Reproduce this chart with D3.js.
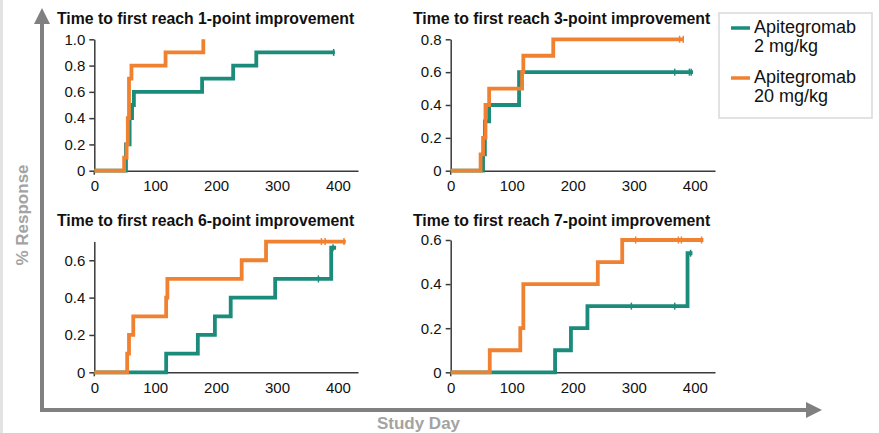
<!DOCTYPE html>
<html>
<head>
<meta charset="utf-8">
<script src="https://cdn.jsdelivr.net/npm/d3@7"></script>
<style>
  html, body { margin: 0; padding: 0; background: #fff; }
  svg { display: block; font-family: "Liberation Sans", Arial, sans-serif; }
</style>
</head>
<body>
<svg id="chart" width="879" height="433"></svg>
<script>
'use strict';

// --- data ---
const titles = [
  'Time to first reach 1-point improvement',
  'Time to first reach 3-point improvement',
  'Time to first reach 6-point improvement',
  'Time to first reach 7-point improvement'
];
const seriesNames = [['Apitegromab', '2 mg/kg'], ['Apitegromab', '20 mg/kg']];
const xTicks = [0, 100, 200, 300, 400];
const yTicks1 = [0, 0.2, 0.4, 0.6, 0.8, 1.0];
const yTicks3 = [0, 0.2, 0.4, 0.6, 0.8];
const yTicks6 = [0, 0.2, 0.4, 0.6];
const yTicks7 = [0, 0.2, 0.4, 0.6];

// [day, cumulative response]
const low1 = [[0, 0], [52, 0.2], [58, 0.4], [62, 0.5], [65, 0.6], [177, 0.7], [228, 0.8], [266, 0.9], [395, 0.9]];
const high1 = [[0, 0], [49, 0.1], [53, 0.2], [55, 0.4], [57, 0.7], [61, 0.8], [117, 0.9], [179, 1.0]];
const low3 = [[0, 0], [53, 0.1], [56, 0.3], [63, 0.4], [112, 0.6], [397, 0.6]];
const high3 = [[0, 0], [49, 0.1], [53, 0.2], [57, 0.4], [63, 0.5], [117, 0.6], [119, 0.7], [168, 0.8], [382, 0.8]];
const low6 = [[0, 0], [118, 0.1], [170, 0.2], [198, 0.3], [224, 0.4], [297, 0.5], [389, 0.667], [397, 0.667]];
const high6 = [[0, 0], [54, 0.1], [57, 0.2], [64, 0.3], [118, 0.4], [120, 0.5], [242, 0.6], [282, 0.7], [413, 0.7]];
const low7 = [[0, 0], [171, 0.1], [197, 0.2], [224, 0.3], [388, 0.54], [396, 0.54]];
const high7 = [[0, 0], [64, 0.1], [114, 0.2], [119, 0.4], [241, 0.5], [281, 0.6], [414, 0.6]];

// censored observations [day, value]
const cens1Low = [[393, 0.9]];
const cens1High = [];
const cens3Low = [[367, 0.6], [391, 0.6], [394, 0.6]];
const cens3High = [[375, 0.8], [381, 0.8]];
const cens6Low = [[368, 0.5], [392, 0.667]];
const cens6High = [[373, 0.7], [379, 0.7], [410, 0.7]];
const cens7Low = [[296, 0.3], [367, 0.3], [393, 0.54]];
const cens7High = [[303, 0.6], [373, 0.6], [378, 0.6], [411, 0.6]];

const colors = ['#1b8c7b', '#f08131'];

// --- layout ---
const panels = [
  { title: titles[0], left: 94.3, right: 358, top: 39.3, bottom: 170.7, yMax: 1.0, yTicks: yTicks1, low: low1, high: high1, cLow: cens1Low, cHigh: cens1High, tx: 57, ty: 24 },
  { title: titles[1], left: 450.7, right: 715, top: 39.3, bottom: 170.7, yMax: 0.8, yTicks: yTicks3, low: low3, high: high3, cLow: cens3Low, cHigh: cens3High, tx: 413, ty: 24 },
  { title: titles[2], left: 94.3, right: 358, top: 241.6, bottom: 372.3, yMax: 0.7, yTicks: yTicks6, low: low6, high: high6, cLow: cens6Low, cHigh: cens6High, tx: 57, ty: 225.5 },
  { title: titles[3], left: 450.7, right: 715, top: 240, bottom: 372.3, yMax: 0.6, yTicks: yTicks7, low: low7, high: high7, cLow: cens7Low, cHigh: cens7High, tx: 413, ty: 225.5 }
];

const svg = d3.select('#chart');
const frameColor = '#808080';
const labelColor = '#a3a3a3';

// faint strip at the left edge
svg.append('rect').attr('x', 0).attr('y', 0).attr('width', 3).attr('height', 433).attr('fill', '#e3e3e3');

// big frame arrows
svg.append('line').attr('x1', 42).attr('y1', 22).attr('x2', 42).attr('y2', 412)
  .attr('stroke', frameColor).attr('stroke-width', 4);
svg.append('line').attr('x1', 40).attr('y1', 410).attr('x2', 808).attr('y2', 410)
  .attr('stroke', frameColor).attr('stroke-width', 4);
svg.append('path').attr('d', 'M42,8 L34,24 L50,24 Z').attr('fill', frameColor);
svg.append('path').attr('d', 'M822,410 L806,402 L806,418 Z').attr('fill', frameColor);

svg.append('text')
  .attr('transform', 'translate(28,215) rotate(-90)')
  .attr('text-anchor', 'middle')
  .attr('font-size', 17).attr('font-weight', 'bold')
  .attr('fill', labelColor)
  .text('% Response');

svg.append('text')
  .attr('x', 418.5).attr('y', 429)
  .attr('text-anchor', 'middle')
  .attr('font-size', 17).attr('font-weight', 'bold')
  .attr('fill', labelColor)
  .text('Study Day');

const fmtY = d => (d === 0 ? '0' : d.toFixed(1));

panels.forEach(p => {
  const x = d3.scaleLinear().domain([0, 433]).range([p.left, p.right]);
  const y = d3.scaleLinear().domain([0, p.yMax]).range([p.bottom, p.top]);
  const g = svg.append('g');

  g.append('text')
    .attr('x', p.tx).attr('y', p.ty)
    .attr('font-size', 15.8).attr('font-weight', 'bold')
    .attr('fill', '#111')
    .text(p.title);

  const yAxis = g.append('g')
    .attr('transform', `translate(${p.left},0)`)
    .call(d3.axisLeft(y).tickValues(p.yTicks).tickFormat(fmtY).tickSize(5).tickSizeOuter(0).tickPadding(4));
  const xAxis = g.append('g')
    .attr('transform', `translate(0,${p.bottom})`)
    .call(d3.axisBottom(x).tickValues(xTicks).tickSize(0).tickSizeOuter(0).tickPadding(10));

  [yAxis, xAxis].forEach(a => {
    a.select('.domain').attr('stroke', '#3a3a3a').attr('stroke-width', 1.5);
    a.selectAll('.tick line').attr('stroke', '#3a3a3a').attr('stroke-width', 1.5);
    a.selectAll('.tick text').attr('font-size', 15).attr('fill', '#111')
      .attr('font-family', '"Liberation Sans", Arial, sans-serif');
  });
  // small stub under the origin
  g.append('line')
    .attr('x1', p.left).attr('x2', p.left)
    .attr('y1', p.bottom).attr('y2', p.bottom + 4)
    .attr('stroke', '#3a3a3a').attr('stroke-width', 1.5);

  const line = d3.line().x(d => x(d[0])).y(d => y(d[1])).curve(d3.curveStepAfter);

  [[p.low, p.cLow, colors[0]], [p.high, p.cHigh, colors[1]]].forEach(([steps, cens, col]) => {
    g.append('path')
      .datum(steps)
      .attr('fill', 'none')
      .attr('stroke', col)
      .attr('stroke-width', 3.8)
      .attr('d', line);
    g.selectAll(null)
      .data(cens)
      .enter().append('line')
      .attr('x1', d => x(d[0])).attr('x2', d => x(d[0]))
      .attr('y1', d => y(d[1]) - 3.5).attr('y2', d => y(d[1]) + 3.5)
      .attr('stroke', col).attr('stroke-width', 1.5);
  });
});

// legend
const legend = svg.append('g');
legend.append('rect')
  .attr('x', 719).attr('y', 13).attr('width', 153).attr('height', 105)
  .attr('fill', '#fff').attr('stroke', '#d9d9d9').attr('stroke-width', 1.5);

seriesNames.forEach((name, i) => {
  const top = 33 + i * 50;
  legend.append('line')
    .attr('x1', 731).attr('x2', 750)
    .attr('y1', top - 5).attr('y2', top - 5)
    .attr('stroke', colors[i]).attr('stroke-width', 3.5);
  legend.append('text')
    .attr('x', 754).attr('y', top)
    .attr('font-size', 18).attr('fill', '#111')
    .selectAll('tspan')
    .data(name)
    .enter().append('tspan')
    .attr('x', 754)
    .attr('dy', (d, j) => (j === 0 ? 0 : 19))
    .text(d => d);
});
</script>
</body>
</html>
